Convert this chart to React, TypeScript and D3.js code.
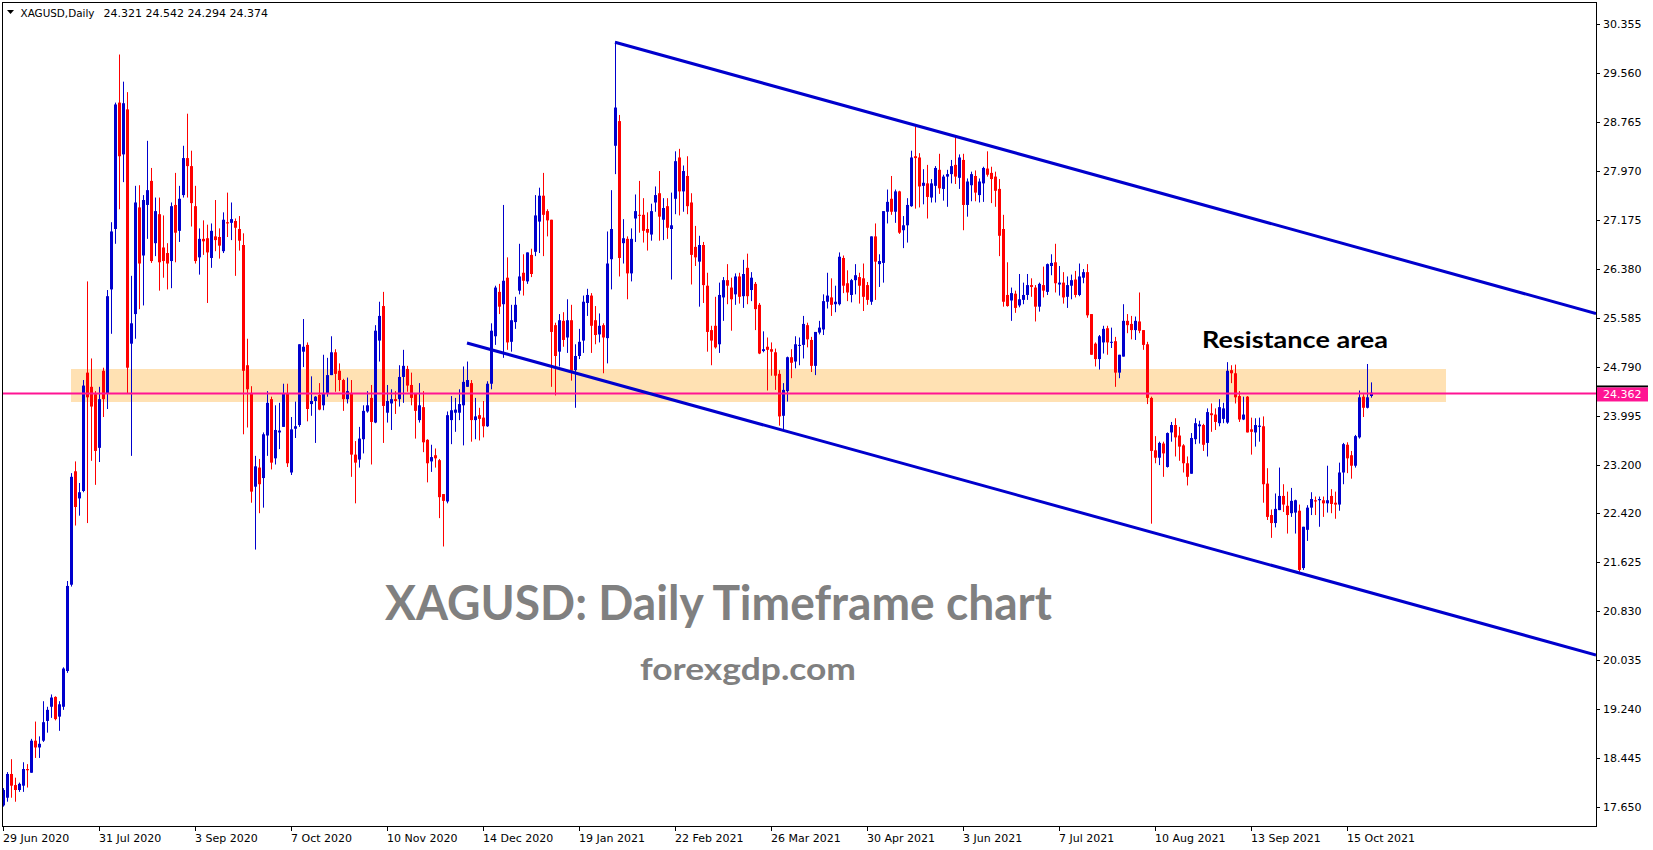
import React from "react";
import * as d3 from "d3";

// ---------- DATA ----------
const opens = [
17.68,17.805,18.19,18.01,17.93,18.00,18.27,18.21,18.73,18.62,18.73,19.05,19.28,19.44,19.12,19.28,19.86,21.26,23.10,22.66,
22.78,24.70,24.47,24.35,23.48,24.73,24.37,26.05,27.03,29.08,28.24,28.97,25.17,25.65,27.38,26.60,27.42,27.81,26.80,27.27,
26.73,26.64,26.51,27.42,27.00,27.58,28.18,28.05,27.40,26.57,26.87,26.88,26.56,26.91,26.90,26.67,27.14,27.13,27.16,27.03,
26.77,24.82,24.37,22.85,23.16,22.99,23.68,24.27,23.31,23.73,23.82,24.37,23.08,23.79,23.85,25.04,25.15,24.19,24.24,24.34,
24.17,24.36,24.66,25.03,24.73,24.58,24.27,24.37,23.37,23.29,23.62,24.07,24.29,23.89,25.22,25.78,24.05,24.20,24.27,24.27,
24.63,24.76,24.50,24.37,23.93,24.14,23.61,23.26,23.36,23.28,22.73,22.61,23.93,24.05,24.05,24.17,24.47,24.53,23.93,24.01,
23.97,23.83,24.52,25.29,26.01,25.81,26.24,25.20,25.52,26.03,26.32,26.18,26.61,26.66,27.15,27.57,27.32,27.18,25.47,25.04,
25.54,25.27,25.55,24.74,24.97,25.22,25.83,25.95,25.55,25.32,25.47,25.26,26.54,28.38,28.78,26.80,26.87,26.31,27.20,27.26,
27.26,27.03,26.94,27.46,27.61,27.18,27.40,27.03,27.52,28.19,27.64,27.89,27.46,26.74,26.50,26.77,26.11,25.39,25.46,25.16,
25.92,26.20,26.08,25.97,26.26,25.94,26.40,26.04,26.14,25.80,25.05,25.12,25.08,25.03,24.68,24.00,24.40,24.95,24.88,25.14,
25.15,25.47,25.23,24.81,25.35,25.40,25.85,25.92,25.81,25.81,26.56,26.15,25.96,26.20,26.25,26.23,26.12,25.85,26.91,26.46,
26.48,27.31,27.52,27.31,27.64,27.01,27.09,27.40,28.21,28.19,27.73,27.77,27.54,27.73,27.99,27.68,27.88,27.92,28.07,27.86,
28.15,27.42,27.74,27.89,27.58,27.77,28.01,27.94,27.88,27.68,27.03,25.96,25.87,25.98,25.79,25.88,25.96,26.12,26.08,25.77,
26.12,26.01,26.43,26.49,26.13,26.16,25.93,26.11,26.21,25.96,26.24,26.33,25.65,25.17,24.92,25.19,25.42,25.19,25.21,24.70,
24.96,25.54,25.49,25.39,25.53,25.39,25.16,24.29,23.44,23.32,23.55,23.17,23.73,23.85,23.68,23.52,23.23,23.06,23.62,23.83,
23.85,23.56,24.04,24.02,23.88,23.95,23.89,24.74,24.69,24.32,23.94,24.31,23.78,23.73,23.82,23.83,22.90,22.39,22.26,22.47,
22.70,22.54,22.42,22.43,22.46,21.53,22.15,22.51,22.63,22.63,22.63,22.58,22.70,22.59,22.56,23.08,23.53,23.36,23.19,23.65,
24.31,24.13,24.321];
const highs = [
17.96,18.22,18.43,18.13,18.05,18.38,18.35,18.76,19.04,18.80,19.37,19.28,19.48,19.45,19.37,19.92,21.32,23.07,23.26,22.91,
24.58,26.18,24.93,24.40,24.47,24.78,26.04,27.14,29.08,29.86,29.42,29.25,26.27,27.73,27.74,27.58,28.46,28.02,27.54,27.54,
27.25,26.80,27.46,27.94,27.73,28.38,28.90,28.30,27.73,27.04,27.17,27.10,27.12,27.50,27.04,27.30,27.62,27.46,27.20,27.24,
26.96,25.25,24.48,23.35,23.30,23.73,24.40,24.31,24.17,24.21,24.52,24.52,23.98,24.23,25.16,25.57,25.19,24.64,24.32,24.53,
24.99,24.94,25.29,25.08,24.85,24.60,24.62,24.58,23.59,23.82,24.17,24.40,24.50,25.47,25.85,26.01,24.50,24.43,24.40,24.82,
25.07,24.81,24.70,24.37,24.53,24.40,23.62,23.53,23.47,23.30,22.73,24.07,24.32,24.29,24.43,24.80,24.88,24.58,24.29,24.13,
24.24,24.56,25.50,26.11,26.14,27.42,26.57,25.80,25.93,26.79,26.62,26.65,26.71,27.58,27.70,27.94,27.35,27.18,25.51,25.65,
25.68,25.89,25.80,25.16,25.41,25.95,26.06,25.99,25.78,25.66,25.50,26.99,27.66,30.07,28.88,27.19,26.91,27.04,27.59,27.81,
27.53,27.30,27.44,27.72,27.97,27.53,27.53,27.62,28.29,28.33,28.06,28.21,27.61,27.08,26.92,26.82,26.32,25.46,25.93,26.16,
26.25,26.46,26.24,26.31,26.32,26.53,26.63,26.33,26.17,25.83,25.37,25.27,25.19,25.09,24.74,24.53,24.96,25.08,25.29,25.27,
25.62,25.51,25.28,25.36,25.54,25.97,26.32,26.23,26.11,26.65,26.60,26.36,26.22,26.46,26.32,26.47,26.17,26.91,27.12,26.62,
27.32,27.67,27.89,27.67,27.65,27.24,27.53,28.30,28.69,28.26,28.00,28.07,27.84,28.05,28.25,27.91,27.99,28.15,28.55,28.24,
28.25,27.85,27.96,27.98,27.85,28.04,28.29,28.04,27.96,27.84,27.26,26.49,26.08,26.03,26.30,26.16,26.30,26.23,26.12,26.16,
26.42,26.47,26.62,26.79,26.43,26.33,26.26,26.29,26.35,26.47,26.38,26.46,25.65,25.19,25.31,25.46,25.46,25.43,25.28,24.99,
25.81,25.65,25.62,25.61,26.00,25.39,25.20,24.31,23.67,23.58,23.58,23.73,23.90,23.96,23.82,23.54,23.34,23.72,23.96,23.92,
23.87,24.12,24.20,24.12,24.27,24.21,24.87,24.82,24.83,24.40,24.31,24.32,23.97,23.96,23.97,23.99,23.15,22.48,22.74,23.16,
22.89,22.77,22.83,22.64,22.56,22.20,22.55,22.76,22.69,22.69,22.69,23.19,22.81,22.77,23.24,23.56,23.57,23.43,23.69,24.41,
24.35,24.84,24.542];
const lows = [
17.66,17.74,17.805,17.74,17.90,17.90,17.97,18.21,18.45,18.45,18.71,18.86,19.10,19.06,18.89,19.23,19.83,21.23,22.22,22.38,
22.76,22.26,23.27,22.88,23.25,23.98,24.11,25.33,26.79,27.35,27.79,24.37,23.35,25.25,25.73,25.79,26.87,26.48,26.59,26.03,
26.24,26.05,26.07,26.49,26.82,27.54,27.54,27.07,26.47,26.29,26.61,25.83,26.40,26.67,26.55,26.64,26.90,26.85,26.27,26.68,
23.70,23.81,22.59,21.83,22.42,22.51,23.35,23.13,23.21,23.46,23.82,23.17,23.04,23.64,23.82,24.79,23.91,24.00,23.56,24.09,
24.09,24.31,24.66,24.39,24.40,24.08,24.20,23.01,22.58,23.16,23.39,24.05,23.21,23.88,24.88,23.56,23.89,23.77,24.03,24.15,
24.21,24.39,24.17,23.63,23.89,23.41,22.92,23.09,23.16,22.34,21.88,22.58,23.54,23.74,23.93,23.52,24.47,23.58,23.62,23.60,
23.65,23.82,24.43,25.15,25.65,24.94,25.07,25.04,25.41,25.97,25.95,26.14,26.25,26.59,26.64,26.59,26.91,24.47,24.33,24.80,
25.12,25.02,24.57,24.13,24.92,25.02,25.62,25.02,25.16,25.19,24.69,24.85,26.05,27.92,26.26,26.47,25.89,26.18,26.82,26.97,
26.81,26.68,26.84,27.31,26.84,26.85,26.87,26.21,27.27,27.25,27.31,27.27,26.13,26.43,25.77,25.83,25.04,24.82,25.09,25.02,
25.54,25.81,25.38,25.80,25.82,25.75,25.81,25.86,25.39,25.00,25.03,24.41,24.65,24.42,23.84,23.77,24.23,24.61,24.77,24.82,
24.93,25.11,24.71,24.66,25.32,25.31,25.74,25.62,25.68,25.79,25.99,25.86,25.84,25.97,25.82,25.70,25.80,25.80,25.88,26.09,
26.16,27.12,27.26,27.13,26.95,26.72,26.81,27.39,27.36,27.38,27.43,27.20,27.46,27.46,27.60,27.49,27.39,27.77,27.76,27.68,
27.01,27.23,27.48,27.48,27.46,27.47,27.88,27.45,27.39,26.59,25.77,25.77,25.54,25.67,25.76,25.81,25.88,25.93,25.53,25.69,
25.92,25.96,26.28,26.00,25.95,25.82,25.75,25.89,25.92,25.94,26.15,25.59,24.99,24.80,24.75,25.01,24.99,25.10,24.47,24.61,
24.96,25.34,25.24,25.23,25.34,25.07,24.19,22.25,23.23,23.20,23.01,23.16,23.58,23.34,23.27,23.08,22.87,23.06,23.54,23.55,
23.43,23.34,23.74,23.77,23.83,23.88,23.87,24.53,24.20,23.90,23.93,23.73,23.37,23.50,23.58,22.59,22.31,22.02,22.19,22.47,
22.44,22.09,22.36,22.09,21.47,21.50,21.97,22.39,22.39,22.20,22.36,22.43,22.42,22.33,22.46,22.89,23.07,22.98,23.16,23.63,
23.98,24.12,24.294];
const closes = [
17.93,18.19,18.00,17.93,18.03,18.27,18.25,18.73,18.62,18.68,19.03,19.23,19.43,19.08,19.32,19.90,21.24,23.01,22.52,22.76,
24.49,24.30,24.15,23.43,24.27,24.27,25.94,26.99,29.05,28.21,29.07,24.78,25.50,27.46,26.47,27.50,27.66,26.51,27.32,26.49,
26.51,26.47,27.40,26.97,27.52,28.18,28.05,27.45,26.51,26.87,26.83,26.65,27.00,26.85,26.76,27.18,27.12,27.19,27.05,26.84,
24.73,24.43,22.77,23.18,22.89,23.70,24.21,23.24,23.77,23.76,24.36,23.23,23.78,23.83,25.16,25.12,24.11,24.24,24.31,24.10,
24.37,24.66,25.03,24.68,24.58,24.27,24.40,23.37,23.24,23.63,24.08,24.17,23.90,25.38,25.62,24.16,24.24,24.27,24.24,24.63,
24.81,24.49,24.29,24.08,24.17,23.57,23.23,23.33,23.31,22.68,22.62,24.01,24.09,24.10,24.19,24.55,24.58,23.93,23.99,23.95,
23.83,24.52,25.38,26.08,25.77,26.19,25.19,25.55,25.80,26.26,26.19,26.65,26.30,27.25,27.57,27.26,27.17,25.36,24.97,25.55,
25.23,25.55,24.73,24.97,25.20,25.85,25.96,25.46,25.31,25.46,25.27,26.47,27.03,29.00,26.56,26.88,26.31,26.87,27.32,27.25,
27.00,26.97,27.32,27.58,27.23,27.37,27.05,27.09,28.13,27.64,27.97,27.40,26.61,26.57,26.77,26.12,25.36,25.22,25.11,25.96,
26.20,26.11,25.89,26.26,25.93,26.30,25.94,26.24,25.73,25.01,25.08,25.07,25.04,24.65,23.99,24.42,24.95,24.86,25.16,25.15,
25.49,25.24,24.81,25.36,25.43,25.86,25.95,25.80,25.85,26.58,26.11,26.00,26.20,26.28,26.11,25.93,25.88,26.91,26.50,26.51,
27.32,27.47,27.31,27.64,26.97,27.09,27.42,28.19,28.18,27.72,27.78,27.55,27.77,28.02,27.69,27.88,27.92,28.05,27.88,28.19,
27.42,27.80,27.92,27.62,27.80,28.02,27.91,27.84,27.65,26.92,25.85,25.78,25.99,25.75,25.89,25.96,26.12,26.09,25.77,26.14,
26.03,26.46,26.48,26.15,26.16,25.92,26.12,26.20,25.96,26.26,26.33,25.63,24.99,24.92,25.29,25.41,25.19,25.20,24.70,24.99,
25.54,25.47,25.39,25.54,25.38,25.15,24.29,23.43,23.32,23.56,23.39,23.72,23.85,23.65,23.50,23.23,23.01,23.64,23.88,23.86,
23.53,24.06,24.01,23.90,24.14,24.12,24.73,24.69,24.30,23.94,24.02,23.73,23.74,23.85,23.84,22.89,22.36,22.26,22.49,22.70,
22.56,22.39,22.62,22.63,21.50,22.20,22.51,22.65,22.61,22.65,22.58,22.63,22.57,22.56,23.08,23.54,23.31,23.19,23.67,24.30,
24.13,24.30,24.374];

const priceTicks = [30.355, 29.56, 28.765, 27.97, 27.175, 26.38, 25.585, 24.79, 23.995, 23.2, 22.42, 21.625, 20.83, 20.035, 19.24, 18.445, 17.65];
const dateLabels = ["29 Jun 2020", "31 Jul 2020", "3 Sep 2020", "7 Oct 2020", "10 Nov 2020", "14 Dec 2020", "19 Jan 2021", "22 Feb 2021", "26 Mar 2021", "30 Apr 2021", "3 Jun 2021", "7 Jul 2021", "10 Aug 2021", "13 Sep 2021", "15 Oct 2021"];
const dateBarIndex = [0, 24, 48, 72, 96, 120, 144, 168, 192, 216, 240, 264, 288, 312, 336];

const bidPrice = 24.362;
const bandBars = [17, 360.75];
const bandPrices = [24.224, 24.759];
const upperChannel = [[153, 30.06], [398.25, 25.66]];
const lowerChannel = [[116, 25.18], [398.25, 20.12]];

const W = 1653, H = 850;
const L = 2, R = 1596, T = 2, B = 826;
const BULL = "#0000CD", BEAR = "#FF0000", PINK = "#FF1493", BAND = "#FFE1B3";
const AXIS_FONT = "'DejaVu Sans', Tahoma, sans-serif";
const BIG_FONT = "Lato, 'Open Sans', sans-serif";

export default function App() {
  const x = d3.scaleLinear().domain([0, 398.25]).range([3, R]);
  const y = d3.scaleLinear().domain([17.346, 30.712]).range([B, T]);
  const line = d3.line<number[]>().x(d => x(d[0])).y(d => y(d[1]));

  const candles = opens.map((o, i) => {
    const c = closes[i], h = highs[i], l = lows[i];
    const up = c >= o;
    const col = up ? BULL : BEAR;
    const cx = Math.round(x(i));
    const yTop = y(Math.max(o, c)), yBot = y(Math.min(o, c));
    return (
      <g key={i}>
        <rect x={cx} y={y(h)} width={1} height={Math.max(1, y(l) - y(h))} fill={col} />
        <rect x={cx - 1} y={yTop} width={3} height={Math.max(1, yBot - yTop)} fill={col} />
      </g>
    );
  });

  return (
    <svg width={W} height={H} style={{ position: "absolute", left: 0, top: 0, background: "#fff" }}>
      <defs>
        <clipPath id="plot"><rect x={L} y={T} width={R - L} height={B - T} /></clipPath>
      </defs>
      <rect x={0} y={0} width={W} height={H} fill="#fff" />
      <g clipPath="url(#plot)">
        <rect x={x(bandBars[0])} y={y(bandPrices[1])} width={x(bandBars[1]) - x(bandBars[0])} height={y(bandPrices[0]) - y(bandPrices[1])} fill={BAND} />
        {candles}
        <line x1={L} x2={R} y1={y(bidPrice)} y2={y(bidPrice)} stroke={PINK} strokeWidth={2} />
        <path d={line(upperChannel as number[][]) || ""} stroke={BULL} strokeWidth={3} fill="none" />
        <path d={line(lowerChannel as number[][]) || ""} stroke={BULL} strokeWidth={3} fill="none" />
      </g>
      {/* frame */}
      <line x1={L + 0.5} x2={L + 0.5} y1={T} y2={B + 1} stroke="#000" />
      <line x1={L} x2={R + 1} y1={T + 0.5} y2={T + 0.5} stroke="#000" />
      <line x1={R + 0.5} x2={R + 0.5} y1={T} y2={B + 1} stroke="#000" />
      <line x1={L} x2={R + 1} y1={B + 0.5} y2={B + 0.5} stroke="#000" />
      {/* price axis */}
      {priceTicks.map((p, i) => (
        <g key={i}>
          <line x1={R} x2={R + 4} y1={Math.round(y(p)) + 0.5} y2={Math.round(y(p)) + 0.5} stroke="#000" />
          <text x={1603} y={y(p)} dy="0.35em" fontFamily={AXIS_FONT} fontSize={11} fill="#000">{p.toFixed(3)}</text>
        </g>
      ))}
      <rect x={1597} y={y(bidPrice) - 8} width={51} height={2} fill="#000" />
      <rect x={1597} y={y(bidPrice) - 6} width={51} height={14} fill={PINK} />
      <text x={1603} y={y(bidPrice) + 1} dy="0.35em" fontFamily={AXIS_FONT} fontSize={11} fill="#fff">{bidPrice.toFixed(3)}</text>
      {/* date axis */}
      {dateBarIndex.map((bi, i) => (
        <g key={i}>
          <line x1={Math.round(x(bi)) + 0.5} x2={Math.round(x(bi)) + 0.5} y1={B} y2={B + 5} stroke="#000" />
          <text x={x(bi)} y={838} dy="0.35em" fontFamily={AXIS_FONT} fontSize={11} fill="#000">{dateLabels[i]}</text>
        </g>
      ))}
      {/* header */}
      <polygon points="7,10 14,10 10.5,14" fill="#000" />
      <text x={20.5} y={13} dy="0.35em" fontFamily={AXIS_FONT} fontSize={11} fill="#000" textLength={74} lengthAdjust="spacingAndGlyphs">XAGUSD,Daily</text>
      <text x={103.5} y={13} dy="0.35em" fontFamily={AXIS_FONT} fontSize={11} fill="#000">{[opens[342], highs[342], lows[342], closes[342]].map(v => v.toFixed(3)).join(" ")}</text>
      {/* annotations */}
      <text x={1202} y={348} fontFamily={BIG_FONT} fontWeight={700} fontSize={23} fill="#000" textLength={186} lengthAdjust="spacingAndGlyphs">Resistance area</text>
      <text x={385} y={620} fontFamily={BIG_FONT} fontWeight={700} fontSize={47} fill="#808080" textLength={667} lengthAdjust="spacingAndGlyphs">XAGUSD: Daily Timeframe chart</text>
      <text x={640} y={680} fontFamily={BIG_FONT} fontWeight={700} fontSize={30} fill="#808080" textLength={216} lengthAdjust="spacingAndGlyphs">forexgdp.com</text>
    </svg>
  );
}
